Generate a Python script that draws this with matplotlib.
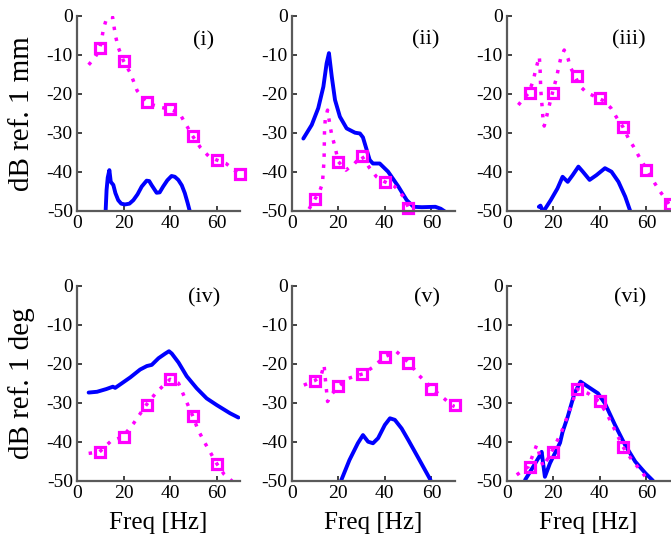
import matplotlib
matplotlib.use("Agg")
import matplotlib.pyplot as plt

plt.rcParams['font.family'] = ['Liberation Serif', 'DejaVu Serif']

# ---- panel data: frequency [Hz] and level [dB] ----
# (i)
blue_i_x = [12.3, 12.7, 13.2, 13.9, 14.5, 15.6, 16.5, 17.7, 19, 20.6, 22.5, 24.2, 26, 27.8,
            29.9, 31, 32, 34.2, 35.5, 37, 38.8, 40.6, 42, 43.5, 45, 46.3, 47.5, 48.6]
blue_i_y = [-50, -44.7, -41.5, -39.6, -42.6, -43.4, -45.5, -47.3, -48.2, -48.4, -48.2, -47.3,
            -45.8, -43.8, -42.3, -42.4, -43.4, -45.4, -45.3, -43.8, -42.2, -41.1, -41.3, -42.1,
            -43.5, -45.5, -48, -50.5]
model_i_x = [5, 7.7, 9.6, 10.6, 11.3, 12.4, 14, 15.3, 16, 16.7, 17.7, 19.9, 23, 25.8, 29.4,
             32.7, 36, 40, 44, 49.6, 53, 56.5, 60, 64, 68, 70]
model_i_y = [-12.6, -10.7, -8.8, -6.1, -3.5, -1.3, -0.2, -0.4, -3.2, -5.6, -8.1, -11.5, -14.8,
             -19.2, -22, -22.9, -23.5, -24, -25, -30.8, -33.8, -36, -37, -37.9, -39.8, -40.5]
meas_i_x = [10, 20, 30, 40, 50, 60, 70]
meas_i_y = [-8.2, -11.5, -22.2, -24, -30.9, -37, -40.5]

# (ii)
blue_ii_x = [5, 8.6, 11.4, 13.6, 15, 16, 17.2, 18.6, 20.7, 23.6, 27.2, 29.3, 30.6, 32, 33.5,
             34.9, 37.8, 41.4, 45.8, 49.4, 52.3, 55.9, 61.7, 64, 66]
blue_ii_y = [-31.5, -28, -23.7, -18.2, -12.2, -9.6, -15.6, -21.6, -25.9, -28.9, -30, -30.2,
             -31.2, -34, -37, -37.9, -37.9, -40, -43.8, -47.3, -49, -49.1, -49, -49.5, -50.3]
model_ii_x = [5, 7, 10, 12.2, 13.2, 13.9, 14.1, 14.4, 15.4, 16.4, 17.2, 18.6, 20, 23.3, 27,
              30, 33.5, 36.4, 40, 44.3, 48, 50, 52]
model_ii_y = [-52, -50, -47, -44.7, -43, -37, -29.3, -26.7, -24.2, -28, -30.6, -33.6, -37.4,
              -39.6, -37.9, -35.9, -39.1, -41.3, -42.6, -43.8, -46.4, -49, -52]
meas_ii_x = [10, 20, 30, 40, 50]
meas_ii_y = [-47, -37.5, -36, -42.6, -49.2]

# (iii)
blue_iii_x = [13.8, 14.5, 15.2, 16, 18.9, 21.8, 24, 26.2, 28.3, 30.8, 32.7, 35.6, 38.5, 42.2,
              45, 48, 50.9, 53]
blue_iii_y = [-49, -48.7, -49.7, -50, -47.3, -44.3, -41.3, -42.6, -40.9, -38.7, -40, -42.1,
              -40.9, -39.1, -40, -42.6, -46.4, -50]
model_iii_x = [5, 7.3, 9.3, 11.4, 12.4, 14, 14.3, 14.6, 14.9, 15.3, 15.6, 16.1, 17.2, 18.2,
               19.6, 21.5, 22.2, 23.2, 24.7, 26.4, 27.2, 29.3, 31.2, 34.3, 38.9, 41.9, 44.8,
               47.2, 50, 52.3, 54.5, 56.7, 60.3, 63.2, 65.4, 69.8]
model_iii_y = [-22.9, -21.2, -19.9, -16.7, -13.9, -10.5, -13.1, -18.6, -21.2, -23.9, -26.6,
               -28.3, -25.7, -23.2, -19.9, -15.6, -13.5, -10.9, -8.8, -11.1, -13.1, -15.4,
               -17.9, -19.7, -21, -21.9, -23.7, -26.1, -28.6, -31.5, -33.6, -36, -39.6, -42.6,
               -44.7, -48.3]
meas_iii_x = [10, 20, 30, 40, 50, 60, 70]
meas_iii_y = [-19.9, -19.9, -15.5, -21.2, -28.6, -39.6, -48.3]

# (iv)
blue_iv_x = [5, 8.6, 12.6, 15.4, 16.4, 19.3, 22.9, 27.1, 30, 32.1, 35, 37.9, 39.5, 40.7, 43.6,
             47.1, 51.4, 55.7, 60, 65.7, 69.3]
blue_iv_y = [-27.4, -27.2, -26.5, -25.9, -26.2, -25, -23.5, -21.5, -20.6, -20.3, -18.6, -17.4,
             -16.8, -17.4, -19.7, -23.2, -26.3, -28.9, -30.6, -32.7, -33.8]
model_iv_x = [5, 9.7, 14.3, 19.7, 24.3, 29.7, 34.3, 40, 43.6, 46.4, 49.7, 52, 55, 60, 63.1,
              66.4, 68]
model_iv_y = [-43, -42.6, -40, -38.7, -35.3, -30.6, -27.2, -24, -25, -28.9, -33.4, -37, -40.4,
              -45.6, -48.3, -50, -51.5]
meas_iv_x = [10, 20, 30, 40, 50, 60]
meas_iv_y = [-42.6, -38.7, -30.6, -24, -33.4, -45.6]

# (v)
blue_v_x = [21.2, 24.8, 28.4, 30.6, 32.8, 34.9, 37.1, 40, 42.2, 44.3, 47.2, 50.1, 54.5, 59.6]
blue_v_y = [-50, -44.7, -40.4, -38.3, -40, -40.4, -39.1, -35.7, -34, -34.4, -36.6, -39.6,
            -44.3, -49.8]
model_v_x = [5.2, 9.7, 12.5, 13.9, 14.6, 15, 15.4, 17.5, 20.4, 24.1, 30.6, 34.6, 40, 45, 50.6,
             54.5, 60.6, 64.6, 68.7, 70]
model_v_y = [-25.5, -24.4, -23.3, -20.3, -24.9, -27.2, -29.7, -27.6, -25.7, -23.8, -22.6, -21,
             -18.2, -16.9, -19.9, -22.9, -26.5, -28.5, -30.6, -31]
meas_v_x = [10, 20, 30, 40, 50, 60, 70]
meas_v_y = [-24.4, -25.7, -22.6, -18.2, -19.9, -26.5, -30.6]

# (vi)
blue_vi_x = [7.9, 11.4, 14.3, 15, 16.4, 18.6, 22.9, 24, 26.2, 29.1, 31.7, 34.9, 39.2, 42.2,
             46.5, 50.9, 55.2, 59.6, 62.8]
blue_vi_y = [-49.8, -46.4, -43.5, -42.6, -49, -45.5, -40.3, -37.5, -33.6, -27.6, -24.6, -25.9,
             -27.6, -30.2, -35.7, -40.9, -45.1, -48.1, -50]
model_vi_x = [4.3, 9.3, 12.9, 14.3, 15.7, 17, 19.3, 21.5, 23.6, 26, 30.2, 34.9, 39.5, 42.9,
              45.8, 49.9, 53.8, 57.4, 59.6, 61]
model_vi_y = [-48.5, -46.4, -40.8, -43.8, -46.4, -45, -42.6, -40, -37.4, -33.6, -26.5, -27.6,
              -29.6, -32.7, -36.2, -41.3, -44.7, -47.3, -49, -50.5]
meas_vi_x = [10, 20, 30, 40, 50]
meas_vi_y = [-46.4, -42.6, -26.5, -29.6, -41.3]

panel_labels = ['(i)', '(ii)', '(iii)', '(iv)', '(v)', '(vi)']
label_pos = [(54.5, -6.4), (57.5, -6.2), (52.5, -6.3), (54.7, -3.0), (58.0, -3.0), (53.0, -3.0)]
x_ticks = [0, 20, 40, 60]
y_ticks = [0, -10, -20, -30, -40, -50]
ylabels = ['dB ref. 1 mm', 'dB ref. 1 deg']
xlabel = 'Freq [Hz]'

panels = [
    (blue_i_x, blue_i_y, model_i_x, model_i_y, meas_i_x, meas_i_y),
    (blue_ii_x, blue_ii_y, model_ii_x, model_ii_y, meas_ii_x, meas_ii_y),
    (blue_iii_x, blue_iii_y, model_iii_x, model_iii_y, meas_iii_x, meas_iii_y),
    (blue_iv_x, blue_iv_y, model_iv_x, model_iv_y, meas_iv_x, meas_iv_y),
    (blue_v_x, blue_v_y, model_v_x, model_v_y, meas_v_x, meas_v_y),
    (blue_vi_x, blue_vi_y, model_vi_x, model_vi_y, meas_vi_x, meas_vi_y),
]

fig = plt.figure(figsize=(6.71, 5.40), dpi=100)
W, H = 671.0, 540.0
lefts = [77.0, 291.7, 506.7]
tops = [15.7, 285.7]
aw, ah = 163.0, 195.0
axis_grey = '#5a5a5a'

for k, (bx, by, mx, my, px, py) in enumerate(panels):
    row, col = divmod(k, 3)
    ax = fig.add_axes([lefts[col] / W, 1 - (tops[row] + ah) / H, aw / W, ah / H])
    ax.plot(bx, by, color='#0000ff', lw=2.8, solid_joinstyle='round', solid_capstyle='round')
    ax.plot(mx, my, color='#ff00ff', lw=2.5, linestyle=(0, (1, 2.2)))
    ax.plot(px, py, linestyle='none', marker='s', ms=7.4, mew=2.3, mec='#ff00ff',
            mfc='none', clip_on=False)
    ax.set_xlim(0, 70)
    ax.set_ylim(-50, 0)
    ax.set_xticks(x_ticks)
    ax.set_yticks(y_ticks)
    ax.set_yticklabels([str(v) for v in y_ticks])
    for side in ('top', 'right'):
        ax.spines[side].set_visible(False)
    for side in ('left', 'bottom'):
        ax.spines[side].set_color(axis_grey)
        ax.spines[side].set_linewidth(1.6)
    ax.tick_params(direction='in', length=3.5, width=1.2, color='#222222',
                   labelsize=14, pad=3)
    lx, ly = label_pos[k]
    ax.text(lx, ly, panel_labels[k], ha='center', va='center', fontsize=16)
    if col == 0:
        ax.set_ylabel(ylabels[row], fontsize=21, labelpad=8)
    if row == 1:
        ax.set_xlabel(xlabel, fontsize=18, labelpad=7)

fig.savefig('out.png', dpi=100)
